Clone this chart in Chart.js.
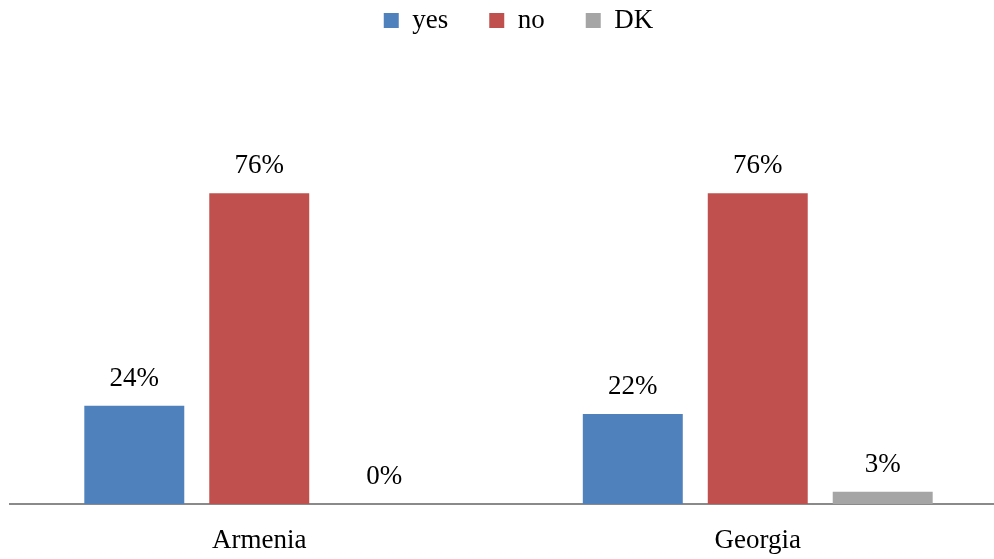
<!DOCTYPE html>
<html>
<head>
<meta charset="utf-8">
<script src="https://cdn.jsdelivr.net/npm/chart.js@4"></script>
<style>
    html, body { margin: 0; padding: 0; background: #fff; overflow: hidden; }
    #wrap { width: 1007px; height: 559px; }
</style>
</head>
<body>
<div id="wrap"><canvas id="pollChart"></canvas></div>
<script>
const countries = ['Armenia', 'Georgia'];
const yesValues = [24, 22];
const noValues = [76, 76];
const dkValues = [0, 3];

const fontFamily = '"Liberation Serif", "DejaVu Serif", serif';

// leave room under the legend so the plot starts lower down,
// and pull the legend row itself up to the top edge
const legendSpace = {
    id: 'legendSpace',
    beforeInit(chart) {
        const fit = chart.legend.fit;
        chart.legend.fit = function () {
            fit.bind(chart.legend)();
            this.height = 95;
        };
    },
    afterLayout(chart) {
        const legend = chart.legend;
        legend.top -= 34;
        legend.bottom -= 34;
        legend.left += 10;
        legend.right += 10;
    }
};

// percentage text above each bar
const valueLabels = {
    id: 'valueLabels',
    afterDatasetsDraw(chart) {
        const ctx = chart.ctx;
        ctx.save();
        ctx.font = '27px ' + fontFamily;
        ctx.fillStyle = '#000';
        ctx.textAlign = 'center';
        ctx.textBaseline = 'middle';
        chart.data.datasets.forEach((ds, i) => {
            chart.getDatasetMeta(i).data.forEach((bar, j) => {
                ctx.fillText(ds.data[j] + '%', bar.x, bar.y - 27);
            });
        });
        ctx.restore();
    }
};

const ctx = document.getElementById('pollChart').getContext('2d');
new Chart(ctx, {
    type: 'bar',
    data: {
        labels: countries,
        datasets: [
            { label: 'yes', data: yesValues, backgroundColor: '#4F81BD' },
            { label: 'no', data: noValues, backgroundColor: '#C0504D' },
            { label: 'DK', data: dkValues, backgroundColor: '#A5A5A5' }
        ]
    },
    options: {
        responsive: true,
        maintainAspectRatio: false,
        animation: false,
        layout: { padding: { left: 10, right: 0, top: 0, bottom: 0 } },
        datasets: {
            bar: { categoryPercentage: 0.752, barPercentage: 0.8 }
        },
        plugins: {
            tooltip: { enabled: false },
            legend: {
                position: 'top',
                align: 'center',
                labels: {
                    boxWidth: 15,
                    boxHeight: 15,
                    padding: 41,
                    color: '#000',
                    font: { family: fontFamily, size: 27 }
                }
            }
        },
        scales: {
            x: {
                grid: { display: false, drawTicks: false },
                border: { display: true, color: '#8a8a8a', width: 2 },
                ticks: {
                    color: '#000',
                    padding: 21,
                    font: { family: fontFamily, size: 27 }
                },
                afterFit(scale) {
                    scale.height = 55;
                }
            },
            y: {
                display: false,
                min: 0,
                max: 100
            }
        }
    },
    plugins: [legendSpace, valueLabels]
});
</script>
</body>
</html>
